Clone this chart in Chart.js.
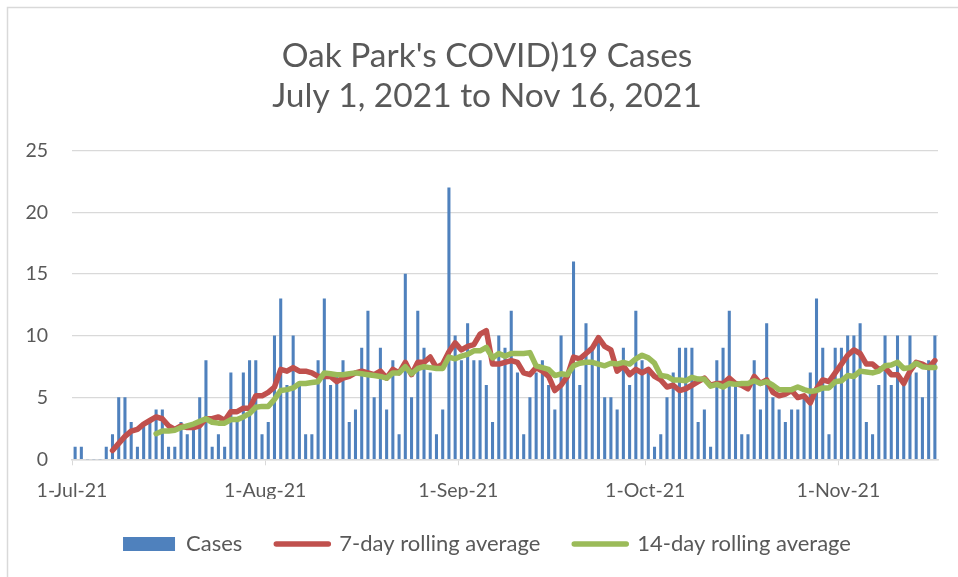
<!DOCTYPE html>
<html>
<head>
<meta charset="utf-8">
<script src="https://cdn.jsdelivr.net/npm/chart.js@4.4.0/dist/chart.umd.min.js"></script>
<style>
  html, body { margin: 0; padding: 0; background: #fff; }
  #wrap { width: 958px; height: 577px; position: relative; }
</style>
</head>
<body>
<div id="wrap"><canvas id="covidChart"></canvas></div>
<script>
// daily cases, 1-Jul-21 .. 16-Nov-21 (139 days)
const cases = [
    1, 1, 0, 0, 0, 1, 2, 5, 5, 3,
    1, 3, 3, 4, 4, 1, 1, 3, 2, 3,
    5, 8, 1, 2, 1, 7, 3, 7, 8, 8,
    2, 3, 10, 13, 6, 10, 6, 2, 2, 8,
    13, 6, 7, 8, 3, 4, 9, 12, 5, 9,
    4, 8, 2, 15, 5, 12, 9, 7, 2, 4,
    22, 10, 8, 11, 8, 8, 6, 3, 10, 9,
    12, 7, 2, 5, 7, 8, 6, 4, 10, 7,
    16, 6, 11, 9, 10, 5, 5, 4, 9, 6,
    12, 8, 7, 1, 2, 5, 7, 9, 9, 9,
    3, 4, 1, 8, 9, 12, 6, 2, 2, 8,
    4, 11, 5, 4, 3, 4, 4, 5, 7, 13,
    9, 2, 9, 9, 10, 10, 11, 3, 2, 6,
    10, 6, 10, 6, 10, 7, 5, 8, 10
];

// day offsets of the month ticks and their labels
const tickDays = [0, 31, 62, 92, 123];
const tickLabels = ['1-Jul-21', '1-Aug-21', '1-Sep-21', '1-Oct-21', '1-Nov-21'];
const yTicks = [0, 5, 10, 15, 20, 25];

const seriesNames = ['Cases', '7-day rolling average', '14-day rolling average'];

// rolling averages of the cases, as in the source sheet
function rolling(arr, n) {
    return arr.map((v, i) => {
        if (i < n - 1) return null;
        let s = 0;
        for (let k = i - n + 1; k <= i; k++) s += arr[k];
        return s / n;
    });
}
const avg7 = rolling(cases, 7);
const avg14 = rolling(cases, 14);

const toPoints = arr => arr.map((v, i) => ({ x: i + 0.5, y: v }));

const GREY = '#595959';
const FONT = 'Lato';

// outer chart border (top + left only visible) and white background
const framePlugin = {
    id: 'frame',
    beforeDraw(chart) {
        const ctx = chart.ctx;
        ctx.save();
        ctx.fillStyle = '#fff';
        ctx.fillRect(0, 0, chart.width, chart.height);
        ctx.strokeStyle = '#D9D9D9';
        ctx.lineWidth = 1.5;
        ctx.beginPath();
        ctx.moveTo(7.5, chart.height);
        ctx.lineTo(7.5, 7.5);
        ctx.lineTo(chart.width, 7.5);
        ctx.stroke();
        ctx.restore();
    }
};

// title and legend are centred a bit right of the canvas middle
const centrePlugin = {
    id: 'centre',
    afterLayout(chart) {
        if (chart.titleBlock) chart.titleBlock.left = 36;
        if (chart.legend) chart.legend.left = 36;
    }
};

const ctx = document.getElementById('covidChart');

const config = {
    type: 'bar',
    data: {
        datasets: [{
            type: 'bar',
            label: seriesNames[0],
            data: toPoints(cases),
            backgroundColor: '#4F81BD',
            barThickness: 2.4,
            order: 3
        }, {
            type: 'line',
            label: seriesNames[1],
            data: toPoints(avg7),
            borderColor: '#C0504D',
            backgroundColor: '#C0504D',
            borderWidth: 5.5,
            pointRadius: 0,
            borderJoinStyle: 'round',
            borderCapStyle: 'round',
            order: 2
        }, {
            type: 'line',
            label: seriesNames[2],
            data: toPoints(avg14),
            borderColor: '#9BBB59',
            backgroundColor: '#9BBB59',
            borderWidth: 5.5,
            pointRadius: 0,
            borderJoinStyle: 'round',
            borderCapStyle: 'round',
            order: 1
        }]
    },
    options: {
        responsive: true,
        maintainAspectRatio: false,
        animation: false,
        layout: { padding: { left: 0, right: 20, top: 0, bottom: 12 } },
        scales: {
            x: {
                type: 'linear',
                min: 0,
                max: 139,
                offset: false,
                afterBuildTicks: scale => {
                    scale.ticks = tickDays.map(d => ({ value: d }));
                },
                afterFit: scale => { scale.height = 39.7; },
                grid: {
                    offset: false,
                    drawOnChartArea: false,
                    drawTicks: true,
                    tickLength: 6,
                    color: '#D9D9D9'
                },
                border: { color: '#D9D9D9', width: 1.5 },
                ticks: {
                    autoSkip: false,
                    maxRotation: 0,
                    padding: 14,
                    color: GREY,
                    font: { family: FONT, size: 19.5 },
                    callback: v => tickLabels[tickDays.indexOf(v)]
                }
            },
            y: {
                min: 0,
                max: 25,
                afterBuildTicks: scale => {
                    scale.ticks = yTicks.map(v => ({ value: v }));
                },
                afterFit: scale => { scale.width = 72; },
                grid: {
                    color: '#D9D9D9',
                    lineWidth: 1.3,
                    drawTicks: false
                },
                border: { display: false },
                ticks: {
                    padding: 24,
                    color: GREY,
                    font: { family: FONT, size: 19.5 }
                }
            }
        },
        plugins: {
            title: {
                display: true,
                text: ["Oak Park's COVID)19 Cases", 'July 1, 2021 to Nov 16, 2021'],
                color: GREY,
                font: { family: FONT, size: 33.5, weight: 'normal', lineHeight: '40px' },
                padding: { top: 36, bottom: 34.7 }
            },
            legend: {
                position: 'bottom',
                labels: {
                    usePointStyle: true,
                    pointStyleWidth: 52,
                    boxHeight: 14,
                    padding: 34,
                    color: GREY,
                    font: { family: FONT, size: 22 },
                    generateLabels: chart => chart.data.datasets.map((ds, i) => ({
                        text: ds.label,
                        datasetIndex: i,
                        fillStyle: ds.type === 'bar' ? ds.backgroundColor : ds.borderColor,
                        strokeStyle: ds.type === 'bar' ? ds.backgroundColor : ds.borderColor,
                        lineWidth: ds.type === 'bar' ? 0 : 5.5,
                        lineCap: 'round',
                        pointStyle: ds.type === 'bar' ? 'rect' : 'line',
                        fontColor: GREY,
                        hidden: false
                    }))
                }
            },
            tooltip: { enabled: false }
        }
    },
    plugins: [framePlugin, centrePlugin]
};

const covidChart = new Chart(ctx, config);
</script>
</body>
</html>
